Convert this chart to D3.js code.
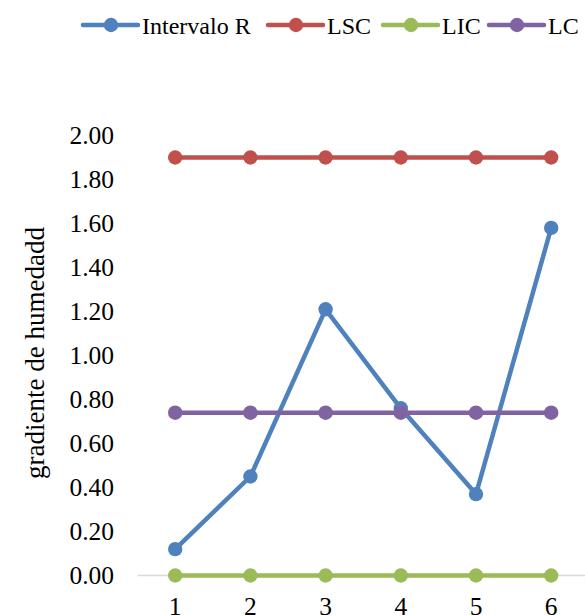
<!DOCTYPE html>
<html>
<head>
<meta charset="utf-8">
<script src="https://cdn.jsdelivr.net/npm/d3@7"></script>
</head>
<body style="margin:0">
<script>
// Control chart data: subgroup numbers and series values
const categories = [1, 2, 3, 4, 5, 6];
const intervaloR = [0.12, 0.45, 1.21, 0.76, 0.37, 1.58];
const lsc = [1.90, 1.90, 1.90, 1.90, 1.90, 1.90];
const lic = [0.00, 0.00, 0.00, 0.00, 0.00, 0.00];
const lc = [0.74, 0.74, 0.74, 0.74, 0.74, 0.74];
const yTicks = [0.00, 0.20, 0.40, 0.60, 0.80, 1.00, 1.20, 1.40, 1.60, 1.80, 2.00];
const seriesNames = ["Intervalo R", "LSC", "LIC", "LC"];
const yTitle = "gradiente de humedadd";

const series = [
  { name: seriesNames[0], values: intervaloR, color: "#4f81bd" },
  { name: seriesNames[1], values: lsc, color: "#c0504d" },
  { name: seriesNames[2], values: lic, color: "#9bbb59" },
  { name: seriesNames[3], values: lc, color: "#8064a2" }
];

const FONT = "Tinos";
const svg = d3.select("body").append("svg")
  .attr("width", 585).attr("height", 615)
  .style("display", "block");

const x = d3.scaleBand().domain(categories).range([137.6, 588.8]);
const y = d3.scaleLinear().domain([0, 2]).range([575.5, 135.5]);
const cx = d => x(d) + x.bandwidth() / 2;

function serif(sel, size) {
  sel.attr("font-family", FONT).attr("font-size", size).attr("fill", "#000");
}

// Horizontal category axis line
svg.append("line")
  .attr("x1", 137.6).attr("x2", 588.8)
  .attr("y1", y(0)).attr("y2", y(0))
  .attr("stroke", "#d9d9d9").attr("stroke-width", 1.5);

// Value axis tick labels
svg.append("g").selectAll("text").data(yTicks).join("text")
  .attr("x", 114).attr("y", d => y(d)).attr("dy", "0.34em")
  .attr("text-anchor", "end")
  .call(serif, 25.5)
  .text(d3.format(".2f"));

// Category tick labels
svg.append("g").selectAll("text").data(categories).join("text")
  .attr("x", d => cx(d)).attr("y", y(0) + 21).attr("dy", "0.71em")
  .attr("text-anchor", "middle")
  .call(serif, 25.5)
  .text(d => d);

// Axis title
svg.append("text")
  .attr("transform", `translate(35,353) rotate(-90)`)
  .attr("text-anchor", "middle").attr("dy", "0.35em")
  .call(serif, 27)
  .text(yTitle);

// Series lines and markers
const line = d3.line().x((d, i) => cx(categories[i])).y(d => y(d));
series.forEach(s => {
  const g = svg.append("g");
  g.append("path")
    .attr("d", line(s.values))
    .attr("fill", "none").attr("stroke", s.color)
    .attr("stroke-width", 4.5).attr("stroke-linejoin", "round").attr("stroke-linecap", "round");
  g.selectAll("circle").data(s.values).join("circle")
    .attr("cx", (d, i) => cx(categories[i])).attr("cy", d => y(d))
    .attr("r", 7.2).attr("fill", s.color);
});

// Legend
const legendX = [83, 268, 383, 489];
const legendY = 25;
series.forEach((s, i) => {
  svg.append("line")
    .attr("x1", legendX[i]).attr("x2", legendX[i] + 55)
    .attr("y1", legendY).attr("y2", legendY)
    .attr("stroke", s.color).attr("stroke-width", 4.5).attr("stroke-linecap", "round");
  svg.append("circle")
    .attr("cx", legendX[i] + 28).attr("cy", legendY).attr("r", 7.2).attr("fill", s.color);
  svg.append("text")
    .attr("x", legendX[i] + 59).attr("y", legendY + 8.5)
    .call(serif, 24)
    .text(s.name);
});
</script>
</body>
</html>
